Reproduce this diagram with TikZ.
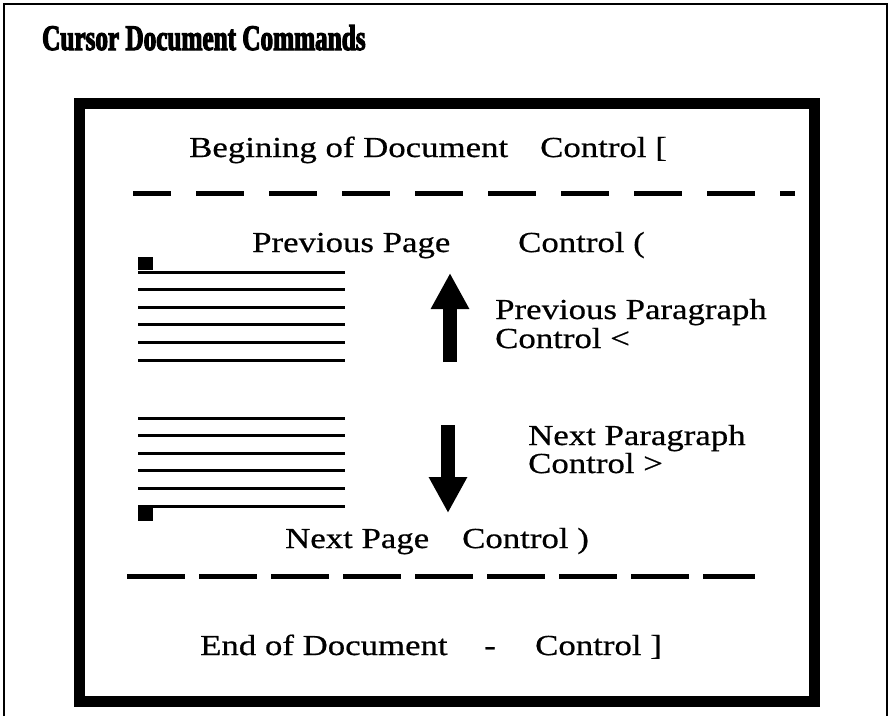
\documentclass[tikz,border=0pt]{standalone}
\usepackage{fontspec}
\setmainfont{Liberation Serif}[FakeStretch=1.2,FakeBold=0.6]
\newfontfamily\titlefont{Liberation Serif}[FakeStretch=0.7,BoldFeatures={FakeBold=3}]
\usetikzlibrary{arrows.meta}

\tikzset{
  lbl/.style={anchor=base west, inner sep=0pt, font=\fontsize{29}{29}\selectfont},
  ttl/.style={anchor=base west, inner sep=0pt, font=\titlefont\bfseries\fontsize{36}{36}\selectfont},
  docline/.style={line width=3pt},
  cutline/.style={line width=5pt},
  bigarrow/.style={line width=14pt, -{Triangle[width=36pt,length=36pt]}}
}

\begin{document}
\begin{tikzpicture}[x=1pt,y=-1pt]
\useasboundingbox (0,0) rectangle (890,716);
\draw[line width=2pt] (4,716) -- (4,4) -- (887,4) -- (887,716);
\node[ttl] (title) at (42,50) {Cursor Document Commands};
\draw[line width=11pt] (79,103) rectangle (814,701);

\node[lbl] (bod) at (189,157) {Begining of Document};
\node[lbl] (bodkey) at (540,157) {Control [};
\draw[cutline, dash pattern=on 48pt off 25pt, dash phase=10pt] (133,193) -- (795,193);

\node[lbl] (prevpage) at (252,252) {Previous Page};
\node[lbl] (prevpagekey) at (518,252) {Control (};

\fill (138,257) rectangle (153,270);
\foreach \y in {272,289.5,307,324.5,342,360}
  \draw[docline] (138,\y) -- (345,\y);
\foreach \y in {418,435.5,453,470.5,488,506}
  \draw[docline] (138,\y) -- (345,\y);
\fill (138,508) rectangle (153,521);

\coordinate (upfrom) at (450,362);
\coordinate (upto) at (450,273);
\draw[bigarrow] (upfrom) -- (upto);
\node[lbl] (prevpara) at (495,319) {Previous Paragraph};
\node[lbl] (prevparakey) at (495,348) {Control <};

\coordinate (downfrom) at (448,425);
\coordinate (downto) at (448,513);
\draw[bigarrow] (downfrom) -- (downto);
\node[lbl] (nextpara) at (528,445) {Next Paragraph};
\node[lbl] (nextparakey) at (528,473) {Control >};

\node[lbl] (nextpage) at (285,548) {Next Page};
\node[lbl] (nextpagekey) at (462,548) {Control )};
\draw[cutline, dash pattern=on 58pt off 14pt] (127,576) -- (755,576);

\node[lbl] (eod) at (200,655) {End of Document};
\node[lbl] (eoddash) at (484,655) {-};
\node[lbl] (eodkey) at (535,655) {Control ]};
\end{tikzpicture}
\end{document}
